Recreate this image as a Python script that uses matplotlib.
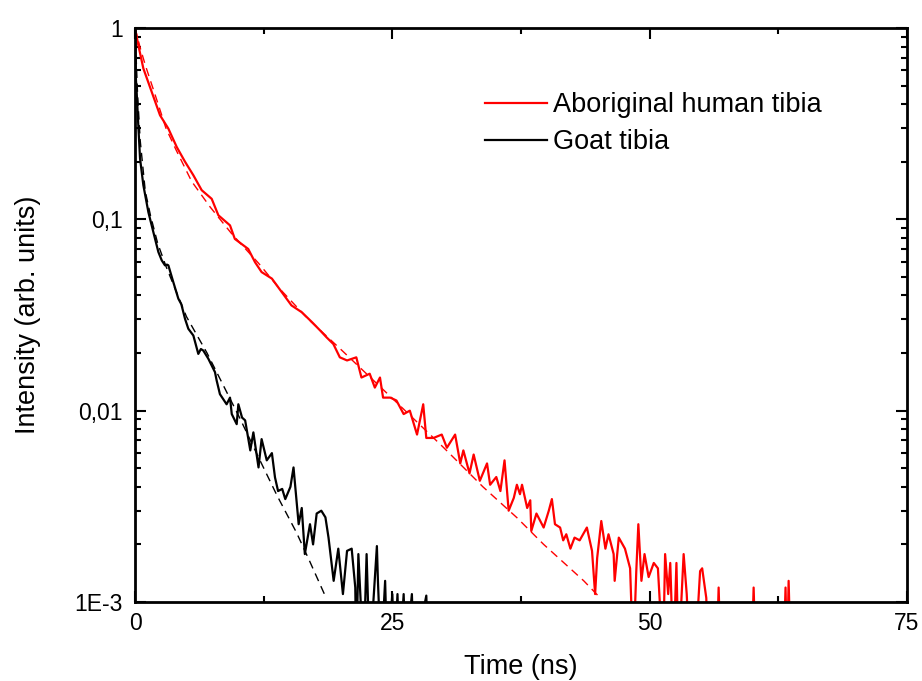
import matplotlib
matplotlib.use("Agg")
import matplotlib.pyplot as plt
from matplotlib.ticker import FixedLocator, LogLocator, NullFormatter, FixedFormatter
import numpy as np

plt.rcParams['font.family'] = ['Liberation Sans', 'DejaVu Sans']

# ---- data ----
human_t = [0, 0.32, 0.81, 1.62, 2.43, 3.24, 4.05, 4.86, 5.67, 6.48, 7.45, 8.1, 9.23, 9.7,
           11.0, 11.66, 12.3, 13.3, 14.25, 15.2, 16.2, 17.2, 18.0, 18.6, 19.27, 19.9, 20.6,
           21.5, 22.0, 22.8, 23.3, 23.8, 24.1, 24.8, 25.4, 26.1, 26.7, 27.4, 28.0, 28.3, 29.0,
           29.8, 30.3, 31.1, 31.6, 31.9, 32.5, 32.9, 33.5, 34.2, 34.5, 35.1, 35.5, 35.9, 36.3,
           36.8, 37.1, 37.4, 37.6, 38.1, 38.4, 38.5, 39.0, 39.7, 40.2, 40.5, 40.8, 41.3, 41.6,
           41.9, 42.3, 42.7, 43.2, 43.9, 44.4, 44.7, 44.9, 45.3, 45.7, 46.0, 46.5, 46.6, 47.0,
           47.6, 48.1, 48.4, 48.7, 48.9, 49.2, 49.5, 49.9, 50.4, 50.8, 51.3, 51.5, 51.8, 52.0,
           52.3, 52.6, 52.8, 53.3, 53.6, 53.9, 54.4, 54.9, 55.1, 55.5, 55.7, 56.5, 56.7, 56.9,
           59.9, 60.1, 60.3, 63.0, 63.2, 63.35, 63.5, 63.7, 75.0]
human_I = [1.0, 0.815, 0.615, 0.464, 0.35, 0.298, 0.239, 0.20, 0.17, 0.142, 0.128, 0.105, 0.093, 0.079,
           0.070, 0.0597, 0.053, 0.049, 0.0417, 0.0355, 0.0327, 0.029, 0.0262, 0.0242, 0.0223, 0.019, 0.0183,
           0.019, 0.0149, 0.0156, 0.0132, 0.0149, 0.0117, 0.0117, 0.0113, 0.0096, 0.010, 0.0075, 0.0108, 0.0072, 0.0072,
           0.0075, 0.0064, 0.0075, 0.0053, 0.0062, 0.0047, 0.0059, 0.0043, 0.0053, 0.0041, 0.0045, 0.0038, 0.0055, 0.0030,
           0.0035, 0.0041, 0.00366, 0.0041, 0.0031, 0.0034, 0.00235, 0.0029, 0.00245, 0.0030, 0.00345, 0.00255, 0.00245, 0.0021,
           0.00226, 0.0019, 0.00217, 0.0021, 0.00245, 0.00185, 0.0011, 0.0017, 0.00265, 0.0019, 0.00226, 0.00178, 0.00129, 0.00217,
           0.0019, 0.0015, 0.0005, 0.00145, 0.00255, 0.00129, 0.00178, 0.00135, 0.0016, 0.0015, 0.0005, 0.00178, 0.0011, 0.0016,
           0.0005, 0.0016, 0.0005, 0.00178, 0.0011, 0.0005, 0.0005, 0.00145, 0.0015, 0.00105, 0.0005, 0.0005, 0.00119, 0.0005,
           0.0005, 0.00119, 0.0005, 0.0005, 0.00119, 0.0005, 0.00129, 0.0005, 0.0005]

human_fit_t = [0, 0.5, 1, 2, 3, 4, 5.5, 7.3, 9.4, 12, 14, 16.8, 20, 25, 30, 33.8, 37.1, 39.7, 43.6, 45.2]
human_fit_I = [1.0, 0.79, 0.64, 0.44, 0.30, 0.23, 0.158, 0.116, 0.084, 0.059, 0.0437, 0.0302, 0.0209,
               0.0116, 0.0064, 0.0040, 0.00276, 0.0020, 0.00129, 0.00105]

goat_t = [0, 0.08, 0.16, 0.32, 0.49, 0.81, 1.3, 1.78, 2.27, 2.6, 2.91, 3.1, 3.24, 3.72, 4.21, 4.5, 4.86,
          5.18, 5.67, 6.15, 6.4, 6.64, 7.12, 7.77, 7.93, 8.25, 8.9, 9.23, 9.4, 9.88, 10.04, 10.4, 10.7,
          11.2, 11.5, 12.0, 12.3, 12.8, 13.3, 13.6, 13.9, 14.3, 14.6, 15.1, 15.4, 15.9, 16.2, 16.5, 17.0,
          17.3, 17.65, 18.1, 18.5, 18.8, 19.3, 19.75, 20.2, 20.6, 21.05, 21.4, 21.5, 21.7, 22.2, 22.5,
          22.8, 23.5, 23.6, 23.9, 24.3, 24.5, 25.0, 25.2, 25.5, 25.7, 26.1, 26.3, 26.9, 27.1, 28.3, 28.5, 30.0]
goat_I = [1.0, 0.55, 0.464, 0.31, 0.208, 0.151, 0.109, 0.0859, 0.0675, 0.061, 0.0575, 0.058, 0.0575, 0.047,
          0.0385, 0.036, 0.0302, 0.0268, 0.0247, 0.0198, 0.021, 0.0206, 0.0187, 0.0159, 0.0144, 0.0122, 0.0108,
          0.0117, 0.0096, 0.0085, 0.0108, 0.0092, 0.0089, 0.0062, 0.0077, 0.00505, 0.0071, 0.0055, 0.006, 0.00448,
          0.0038, 0.0039, 0.00345, 0.004, 0.00505, 0.00255, 0.0031, 0.00178, 0.00255, 0.002, 0.0029, 0.003,
          0.00277, 0.00217, 0.00129, 0.0019, 0.0011, 0.00185, 0.0019, 0.00119, 0.0005, 0.00178, 0.0005, 0.00178,
          0.0005, 0.00196, 0.00129, 0.0005, 0.00129, 0.0005, 0.0011, 0.0005, 0.0011, 0.0005, 0.0011, 0.0005,
          0.0011, 0.0005, 0.00108, 0.0005, 0.0005]

goat_fit_t = [0, 0.25, 0.5, 1.0, 1.5, 2.2, 3.0, 4.0, 5.0, 7.0, 10.2, 11.8, 13.8, 15.7, 17.0, 18.4]
goat_fit_I = [1.0, 0.45, 0.26, 0.14, 0.105, 0.075, 0.057, 0.042, 0.031, 0.020, 0.0091, 0.006, 0.0036,
              0.0023, 0.00162, 0.0011]

series_labels = ["Aboriginal human tibia", "Goat tibia"]
x_ticks = [0, 25, 50, 75]
y_ticks = [0.001, 0.01, 0.1, 1]
y_tick_labels = ["1E-3", "0,01", "0,1", "1"]

# ---- figure ----
W, H = 922, 681
fig = plt.figure(figsize=(W / 100, H / 100), dpi=100)
ax = fig.add_axes([135 / W, 1 - 602 / H, (907 - 135) / W, (602 - 28) / H])

ax.plot(human_t, human_I, color='#ff0000', lw=1.6, label=series_labels[0])
ax.plot(goat_t, goat_I, color='black', lw=1.6, label=series_labels[1])
ax.plot(human_fit_t, human_fit_I, color='#ff0000', lw=1.0, ls=(0, (6, 4)))
ax.plot(goat_fit_t, goat_fit_I, color='black', lw=1.0, ls=(0, (6, 4)))

ax.set_yscale('log')
ax.set_xlim(0, 75)
ax.set_ylim(0.001, 1)

ax.xaxis.set_major_locator(FixedLocator(x_ticks))
ax.xaxis.set_minor_locator(FixedLocator([12.5, 37.5, 62.5]))
ax.yaxis.set_major_locator(FixedLocator(y_ticks))
ax.yaxis.set_major_formatter(FixedFormatter(y_tick_labels))
ax.yaxis.set_minor_locator(LogLocator(base=10, subs=np.arange(2, 10)))
ax.yaxis.set_minor_formatter(NullFormatter())

ax.tick_params(which='both', direction='in', top=True, right=True, width=1.5, labelsize=16.5)
ax.tick_params(which='major', length=8)
ax.tick_params(which='minor', length=4.5)
ax.tick_params(axis='y', which='major', pad=9)
ax.tick_params(axis='x', which='major', pad=7)

for s in ax.spines.values():
    s.set_linewidth(2)

ax.set_xlabel("Time (ns)", fontsize=19.5, labelpad=14)
ax.set_ylabel("Intensity (arb. units)", fontsize=19.5, labelpad=24)

leg = fig.legend(loc='upper left', bbox_to_anchor=(485 / W, 1 - 92 / H), frameon=False,
                 fontsize=19.5, handlelength=2.3, handletextpad=0.2, labelspacing=0.42,
                 borderpad=0, borderaxespad=0)

fig.savefig("out.png", dpi=100)
